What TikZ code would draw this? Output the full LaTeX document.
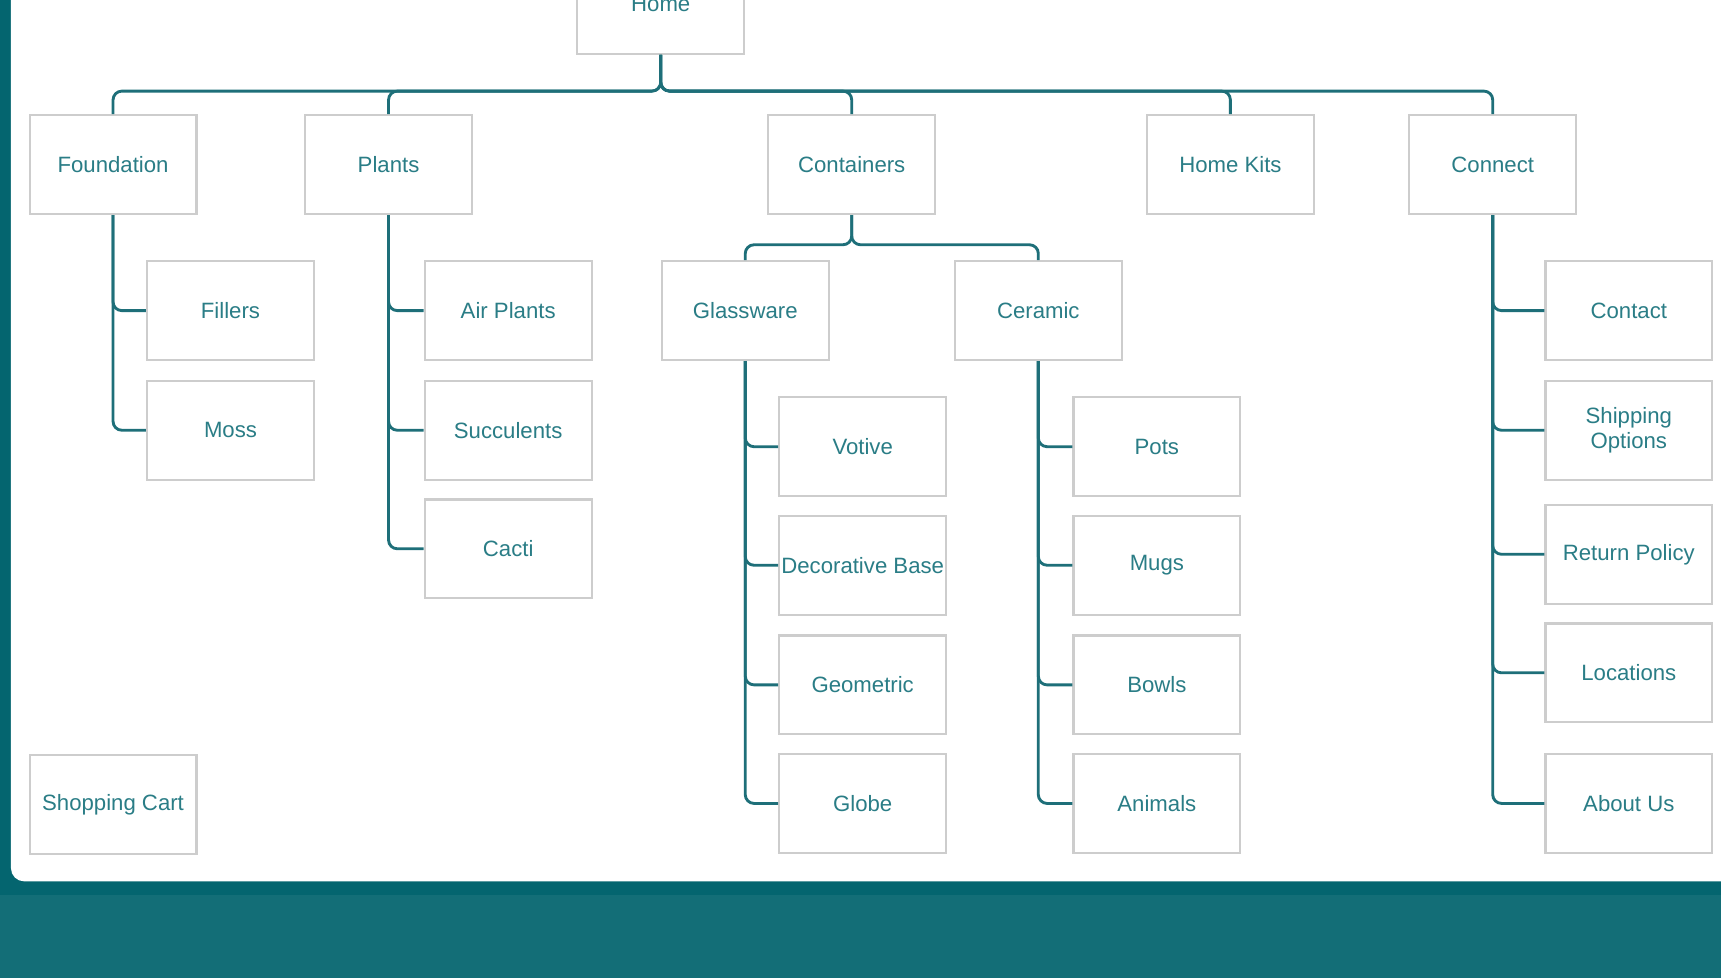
\documentclass[tikz,border=0pt]{standalone}
\usepackage{fontspec}
\setmainfont{Liberation Sans}
\definecolor{bgteal}{HTML}{136E77}
\definecolor{bandteal}{HTML}{04656F}
\definecolor{linkteal}{HTML}{1E6F79}
\definecolor{textteal}{HTML}{2A7D86}
\definecolor{boxgray}{HTML}{CDCDCD}
\tikzset{
  box/.style={shape=rectangle,draw=boxgray,line width=2pt,fill=white,
    minimum width=152pt,minimum height=90pt,inner sep=0pt,align=center,
    text=textteal,font=\fontsize{20.2}{23.5}\selectfont},
  link/.style={draw=linkteal,line width=2.6pt,rounded corners=8pt}
}
\begin{document}
\begin{tikzpicture}[x=1pt,y=-1pt]
            \useasboundingbox (0,0) rectangle (1568,891);
            \clip (0,0) rectangle (1568,891);
            \fill[bgteal] (0,0) rectangle (1568,891);
            \fill[bandteal] (0,0) rectangle (10,815);
            \fill[bandteal] (0,790) rectangle (1568,815);
            \fill[white,rounded corners=12pt] (10,-30) rectangle (1600,803);

            \node[box] (home) at (602,4) {Home};
            \node[box] (found) at (103,150) {Foundation};
            \node[box] (plants) at (354,150) {Plants};
            \node[box] (cont) at (776,150) {Containers};
            \node[box] (kits) at (1121,150) {Home Kits};
            \node[box] (connect) at (1360,150) {Connect};

            \node[box] (fillers) at (210,283) {Fillers};
            \node[box] (moss) at (210,392) {Moss};

            \node[box] (air) at (463,283) {Air Plants};
            \node[box] (succ) at (463,392) {Succulents};
            \node[box] (cacti) at (463,500) {Cacti};

            \node[box] (glass) at (679,283) {Glassware};
            \node[box] (ceram) at (946,283) {Ceramic};

            \node[box] (votive) at (786,407) {Votive};
            \node[box] (decor) at (786,515) {Decorative Base};
            \node[box] (geom) at (786,624) {Geometric};
            \node[box] (globe) at (786,732) {Globe};

            \node[box] (pots) at (1054,407) {Pots};
            \node[box] (mugs) at (1054,515) {Mugs};
            \node[box] (bowls) at (1054,624) {Bowls};
            \node[box] (animals) at (1054,732) {Animals};

            \node[box] (contact) at (1484,283) {Contact};
            \node[box] (ship) at (1484,392) {Shipping\\Options};
            \node[box] (ret) at (1484,505) {Return Policy};
            \node[box] (loc) at (1484,613) {Locations};
            \node[box] (about) at (1484,732) {About Us};

            \node[box] (cart) at (103,733) {Shopping Cart};

            \draw[link] (home.south) -- ++(0,33) -| (found.north);
            \draw[link] (home.south) -- ++(0,33) -| (plants.north);
            \draw[link] (home.south) -- ++(0,33) -| (cont.north);
            \draw[link] (home.south) -- ++(0,33) -| (kits.north);
            \draw[link] (home.south) -- ++(0,33) -| (connect.north);

            \draw[link] (found.south) |- (fillers.west);
            \draw[link] (found.south) |- (moss.west);

            \draw[link] (plants.south) |- (air.west);
            \draw[link] (plants.south) |- (succ.west);
            \draw[link] (plants.south) |- (cacti.west);

            \draw[link] (cont.south) -- ++(0,27) -| (glass.north);
            \draw[link] (cont.south) -- ++(0,27) -| (ceram.north);

            \draw[link] (glass.south) |- (votive.west);
            \draw[link] (glass.south) |- (decor.west);
            \draw[link] (glass.south) |- (geom.west);
            \draw[link] (glass.south) |- (globe.west);

            \draw[link] (ceram.south) |- (pots.west);
            \draw[link] (ceram.south) |- (mugs.west);
            \draw[link] (ceram.south) |- (bowls.west);
            \draw[link] (ceram.south) |- (animals.west);

            \draw[link] (connect.south) |- (contact.west);
            \draw[link] (connect.south) |- (ship.west);
            \draw[link] (connect.south) |- (ret.west);
            \draw[link] (connect.south) |- (loc.west);
            \draw[link] (connect.south) |- (about.west);
\end{tikzpicture}
\end{document}
